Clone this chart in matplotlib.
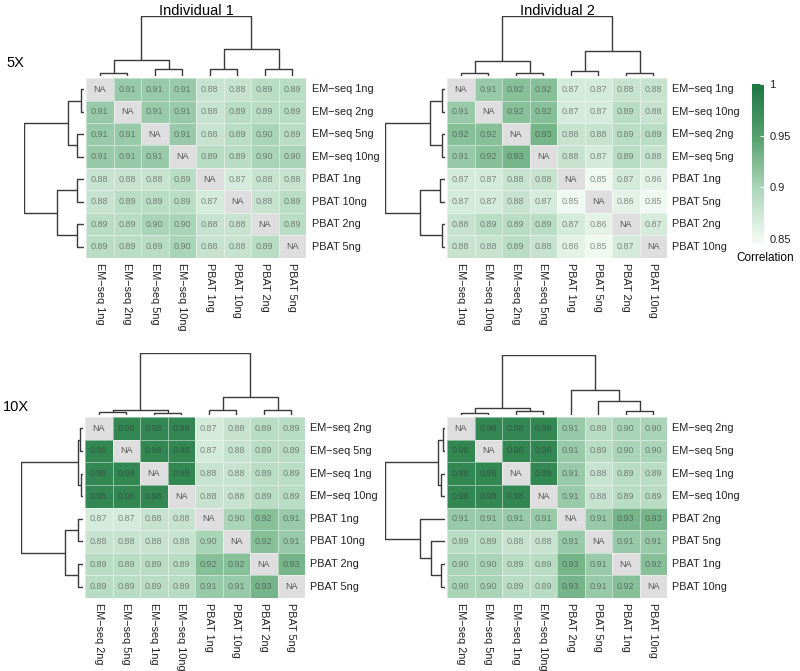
import numpy as np
import matplotlib
matplotlib.use("Agg")
import matplotlib.pyplot as plt
from matplotlib.colors import LinearSegmentedColormap, Normalize
from matplotlib.cm import ScalarMappable

plt.rcParams['font.family'] = ['Liberation Sans', 'DejaVu Sans']

NA = np.nan

# ---------------- data ----------------
labels_5x_ind1 = ['EM−seq 1ng', 'EM−seq 2ng', 'EM−seq 5ng', 'EM−seq 10ng',
                  'PBAT 1ng', 'PBAT 10ng', 'PBAT 2ng', 'PBAT 5ng']
values_5x_ind1 = [
    [NA, .91, .91, .91, .88, .88, .89, .89],
    [.91, NA, .91, .91, .88, .89, .89, .89],
    [.91, .91, NA, .91, .88, .89, .90, .89],
    [.91, .91, .91, NA, .89, .89, .90, .90],
    [.88, .88, .88, .89, NA, .87, .88, .88],
    [.88, .89, .89, .89, .87, NA, .88, .89],
    [.89, .89, .90, .90, .88, .88, NA, .89],
    [.89, .89, .89, .90, .88, .88, .89, NA],
]
tree_5x_ind1 = (((0, 1, 3), (2, 3, 7), 16), ((4, 5, 7), (6, 7, 7), 27), 60)

labels_5x_ind2 = ['EM−seq 1ng', 'EM−seq 10ng', 'EM−seq 2ng', 'EM−seq 5ng',
                  'PBAT 1ng', 'PBAT 5ng', 'PBAT 2ng', 'PBAT 10ng']
values_5x_ind2 = [
    [NA, .91, .92, .92, .87, .87, .88, .88],
    [.91, NA, .92, .92, .87, .87, .89, .88],
    [.92, .92, NA, .93, .88, .88, .89, .89],
    [.91, .92, .93, NA, .88, .87, .89, .88],
    [.87, .87, .88, .88, NA, .85, .87, .86],
    [.87, .87, .88, .87, .85, NA, .86, .85],
    [.88, .89, .89, .89, .87, .86, NA, .87],
    [.88, .88, .89, .88, .86, .85, .87, NA],
]
tree_5x_ind2 = (((0, 1, 3), (2, 3, 3), 15), ((4, 5, 5), (6, 7, 3), 25), 60)

labels_10x_ind1 = ['EM−seq 2ng', 'EM−seq 5ng', 'EM−seq 1ng', 'EM−seq 10ng',
                   'PBAT 1ng', 'PBAT 10ng', 'PBAT 2ng', 'PBAT 5ng']
values_10x_ind1 = [
    [NA, .98, .98, .98, .87, .88, .89, .89],
    [.98, NA, .98, .98, .87, .88, .89, .89],
    [.98, .98, NA, .98, .88, .88, .89, .89],
    [.98, .98, .98, NA, .88, .88, .89, .89],
    [.87, .87, .88, .88, NA, .90, .92, .91],
    [.88, .88, .88, .88, .90, NA, .92, .91],
    [.89, .89, .89, .89, .92, .92, NA, .93],
    [.89, .89, .89, .89, .91, .91, .93, NA],
]
tree_10x_ind1 = (((0, 1, 3), (2, 3, 2), 5), ((4, 5, 5), (6, 7, 5), 18), 62)

labels_10x_ind2 = ['EM−seq 2ng', 'EM−seq 5ng', 'EM−seq 1ng', 'EM−seq 10ng',
                   'PBAT 2ng', 'PBAT 5ng', 'PBAT 1ng', 'PBAT 10ng']
values_10x_ind2 = [
    [NA, .98, .98, .98, .91, .89, .90, .90],
    [.98, NA, .98, .98, .91, .89, .90, .90],
    [.98, .98, NA, .98, .91, .88, .89, .89],
    [.98, .98, .98, NA, .91, .88, .89, .89],
    [.91, .91, .91, .91, NA, .91, .93, .93],
    [.89, .89, .88, .88, .91, NA, .91, .91],
    [.90, .90, .89, .89, .93, .91, NA, .92],
    [.90, .90, .89, .89, .93, .91, .92, NA],
]
tree_10x_ind2 = (((0, 1, 2), (2, 3, 4), 7), (4, (5, (6, 7, 4), 14), 25), 60)

titles = ['Individual 1', 'Individual 2']
row_titles = ['5X', '10X']
cbar_ticks = [0.85, 0.9, 0.95, 1.0]
cbar_ticklabels = ['0.85', '0.9', '0.95', '1']
cbar_title = 'Correlation'

# ---------------- style ----------------
W, H = 800, 671
fig = plt.figure(figsize=(W / 100, H / 100), dpi=100)

cmap = LinearSegmentedColormap.from_list(
    'grn', [(0.0, '#f7fbf8'), (0.33, '#b0d8bd'), (0.66, '#58a26f'), (1.0, '#1b7640')])
cmap.set_bad('#dedede')
norm = Normalize(vmin=0.845, vmax=1.0)
LINE = '#3a3a3a'
LABEL_FS = 7.8


def add_ax(x0, y0, x1, y1):
    return fig.add_axes([x0 / W, 1 - y1 / H, (x1 - x0) / W, (y1 - y0) / H])


def draw_tree(ax, node, orient):
    if isinstance(node, int):
        return node + 0.5, 0.0
    left, right, h = node
    pl, hl = draw_tree(ax, left, orient)
    pr, hr = draw_tree(ax, right, orient)
    xs = [pl, pl, pr, pr]
    ys = [hl, h, h, hr]
    if orient == 'top':
        ax.plot(xs, ys, color=LINE, lw=1.0, solid_capstyle='butt')
    else:
        ax.plot(ys, xs, color=LINE, lw=1.0, solid_capstyle='butt')
    return (pl + pr) / 2, h


def panel(x0, y0, x1, y1, labels, values, tree):
    vals = np.array(values, dtype=float)
    n = len(labels)
    ax = add_ax(x0, y0, x1, y1)
    ax.pcolormesh(np.arange(n + 1), np.arange(n + 1), np.ma.masked_invalid(vals),
                  cmap=cmap, norm=norm, edgecolors=(1, 1, 1, 0.45), linewidth=0.6)
    ax.set_xlim(0, n)
    ax.set_ylim(n, 0)
    ax.axis('off')
    for i in range(n):
        for j in range(n):
            v = vals[i, j]
            if np.isnan(v):
                ax.text(j + 0.5, i + 0.5, 'NA', ha='center', va='center',
                        fontsize=6.5, color='#555555')
            else:
                ax.text(j + 0.5, i + 0.5, f'{v:.2f}', ha='center', va='center',
                        fontsize=6.5, color='#333333', alpha=0.55)
    for i, lab in enumerate(labels):
        ax.text(n + 0.2, i + 0.5, lab, ha='left', va='center', fontsize=LABEL_FS,
                color='#222222')
        ax.text(i + 0.5, n + 0.22, lab, ha='center', va='top', rotation=-90,
                fontsize=LABEL_FS, color='#222222')
    hmax = tree[2]
    # column dendrogram
    axt = add_ax(x0, y0 - hmax - 2, x1, y0 - 2)
    draw_tree(axt, tree, 'top')
    axt.set_xlim(0, n)
    axt.set_ylim(0, hmax + 0.5)
    axt.axis('off')
    # row dendrogram
    axl = add_ax(x0 - hmax - 2, y0, x0 - 2, y1)
    draw_tree(axl, tree, 'left')
    axl.set_ylim(n, 0)
    axl.set_xlim(hmax + 0.5, 0)
    axl.axis('off')


panel(86, 78, 306, 258, labels_5x_ind1, values_5x_ind1, tree_5x_ind1)
panel(447, 78, 667, 258, labels_5x_ind2, values_5x_ind2, tree_5x_ind2)
panel(85, 417, 305, 598, labels_10x_ind1, values_10x_ind1, tree_10x_ind1)
panel(447, 417, 667, 598, labels_10x_ind2, values_10x_ind2, tree_10x_ind2)

fig.text(196 / W, 1 - 11 / H, titles[0], ha='center', va='center', fontsize=10.5)
fig.text(557 / W, 1 - 11 / H, titles[1], ha='center', va='center', fontsize=10.5)
fig.text(6 / W, 1 - 63 / H, row_titles[0], ha='left', va='center', fontsize=10.5)
fig.text(3 / W, 1 - 407 / H, row_titles[1], ha='left', va='center', fontsize=10.5)

# colorbar
cax = add_ax(752, 84, 764, 244)
sm = ScalarMappable(norm=norm, cmap=cmap)
cb = fig.colorbar(sm, cax=cax)
cb.set_ticks(cbar_ticks)
cb.set_ticklabels(cbar_ticklabels)
cb.outline.set_visible(False)
cax.tick_params(length=3, width=0.8, color='white', direction='in', labelsize=8,
                pad=4, labelcolor='#222222')
fig.text(765 / W, 1 - 258 / H, cbar_title, ha='center', va='center', fontsize=8.5)

fig.savefig('out.png', dpi=100)
